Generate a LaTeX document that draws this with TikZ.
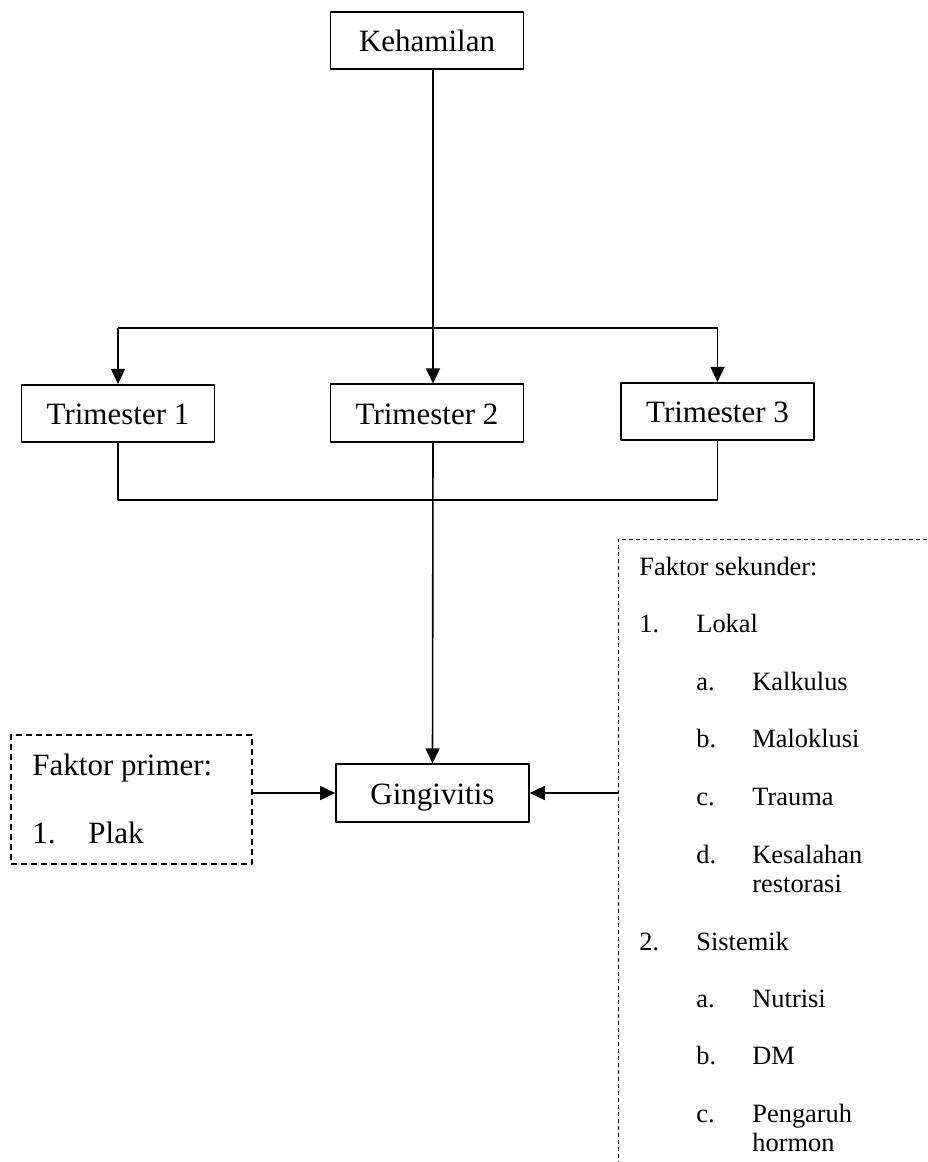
\documentclass[tikz,border=0pt]{standalone}
\usepackage{fontspec}
\setmainfont{Liberation Serif}
\usetikzlibrary{arrows.meta}
\begin{document}
\begin{tikzpicture}[x=.5pt, y=-.5pt, line join=round, >={Triangle[length=7.5pt,width=7pt]},
	stage/.style={draw, line width=.8pt, minimum width=96.5pt, minimum height=28.75pt, inner sep=0pt, text height=11pt, text depth=0pt, font=\fontsize{15.5}{18}\selectfont},
	link/.style={line width=.8pt},
	primbox/.style={draw, line width=.75pt, dash pattern=on 3pt off 2pt, minimum width=120.5pt, minimum height=64.5pt},
	secline/.style={line width=.4pt, dash pattern=on 2pt off 1.5pt},
	big/.style={anchor=base west, inner sep=0pt, font=\fontsize{15.5}{18}\selectfont},
	small/.style={anchor=base west, inner sep=0pt, font=\fontsize{13.2}{16}\selectfont}]
	\useasboundingbox (0,0) rectangle (927,1162);
	\node[stage] (keh) at (427,40.5) {Kehamilan};
	\node[stage] (t1) at (118,413.5) {Trimester 1};
	\node[stage] (t2) at (427,413) {Trimester 2};
	\node[stage] (t3) at (717.5,411.5) {Trimester 3};
	\node[stage] (ging) at (432.5,793) {Gingivitis};
	\node[primbox] (prim) at (131.5,799.5) {};
	\node[big] (prim head) at (32,775) {Faktor primer:};
	\node[big] (prim num) at (32,843) {1.};
	\node[big] (prim item) at (88,843) {Plak};
	\path 
	(433,0) coordinate (trunk)
	(0,328) coordinate (split)
	(0,500) coordinate (join)
	(618,539) coordinate (sec)
	(927,539) coordinate (sec end)
	(618,1162) coordinate (sec foot)
	;
	\draw[link] (keh.south -| trunk)--(split -| trunk)
	(split -| t1)--(split -| t3)
	(t1.south)--(join -| t1)--(join -| t3)--(t3.south)
	;
	\draw[link,->] (split -| t1)--(t1.north);
	\draw[link,->] (split -| trunk)--(t2.north -| trunk);
	\draw[link,->] (split -| t3)--(t3.north);
	\draw[link,->] (t2.south -| trunk)--(ging.north);
	\draw[link,->] (prim.east |- ging.west)--(ging.west);
	\draw[link,->] (sec |- ging.east)--(ging.east);
	\draw[secline] (sec end)--(sec)--(sec foot);
	% faktor sekunder
	\node[small] (sec head) at (639,575) {Faktor sekunder:};
	\foreach \i/\xa/\mk/\xb/\txt/\yb in {1/639/1./696/Lokal/632, 2/696/a./752/Kalkulus/690, 3/696/b./752/Maloklusi/747, 4/696/c./752/Trauma/805, 5/696/d./752/Kesalahan/863, 6/696//752/restorasi/892, 7/639/2./696/Sistemik/950, 8/696/a./752/Nutrisi/1007, 9/696/b./752/DM/1064, 10/696/c./752/Pengaruh/1122, 11/696//752/hormon/1151}{
		\node[small] (mk\i) at (\xa,\yb) {\mk};
		\node[small] (it\i) at (\xb,\yb) {\txt};
	}
\end{tikzpicture}
\end{document}
